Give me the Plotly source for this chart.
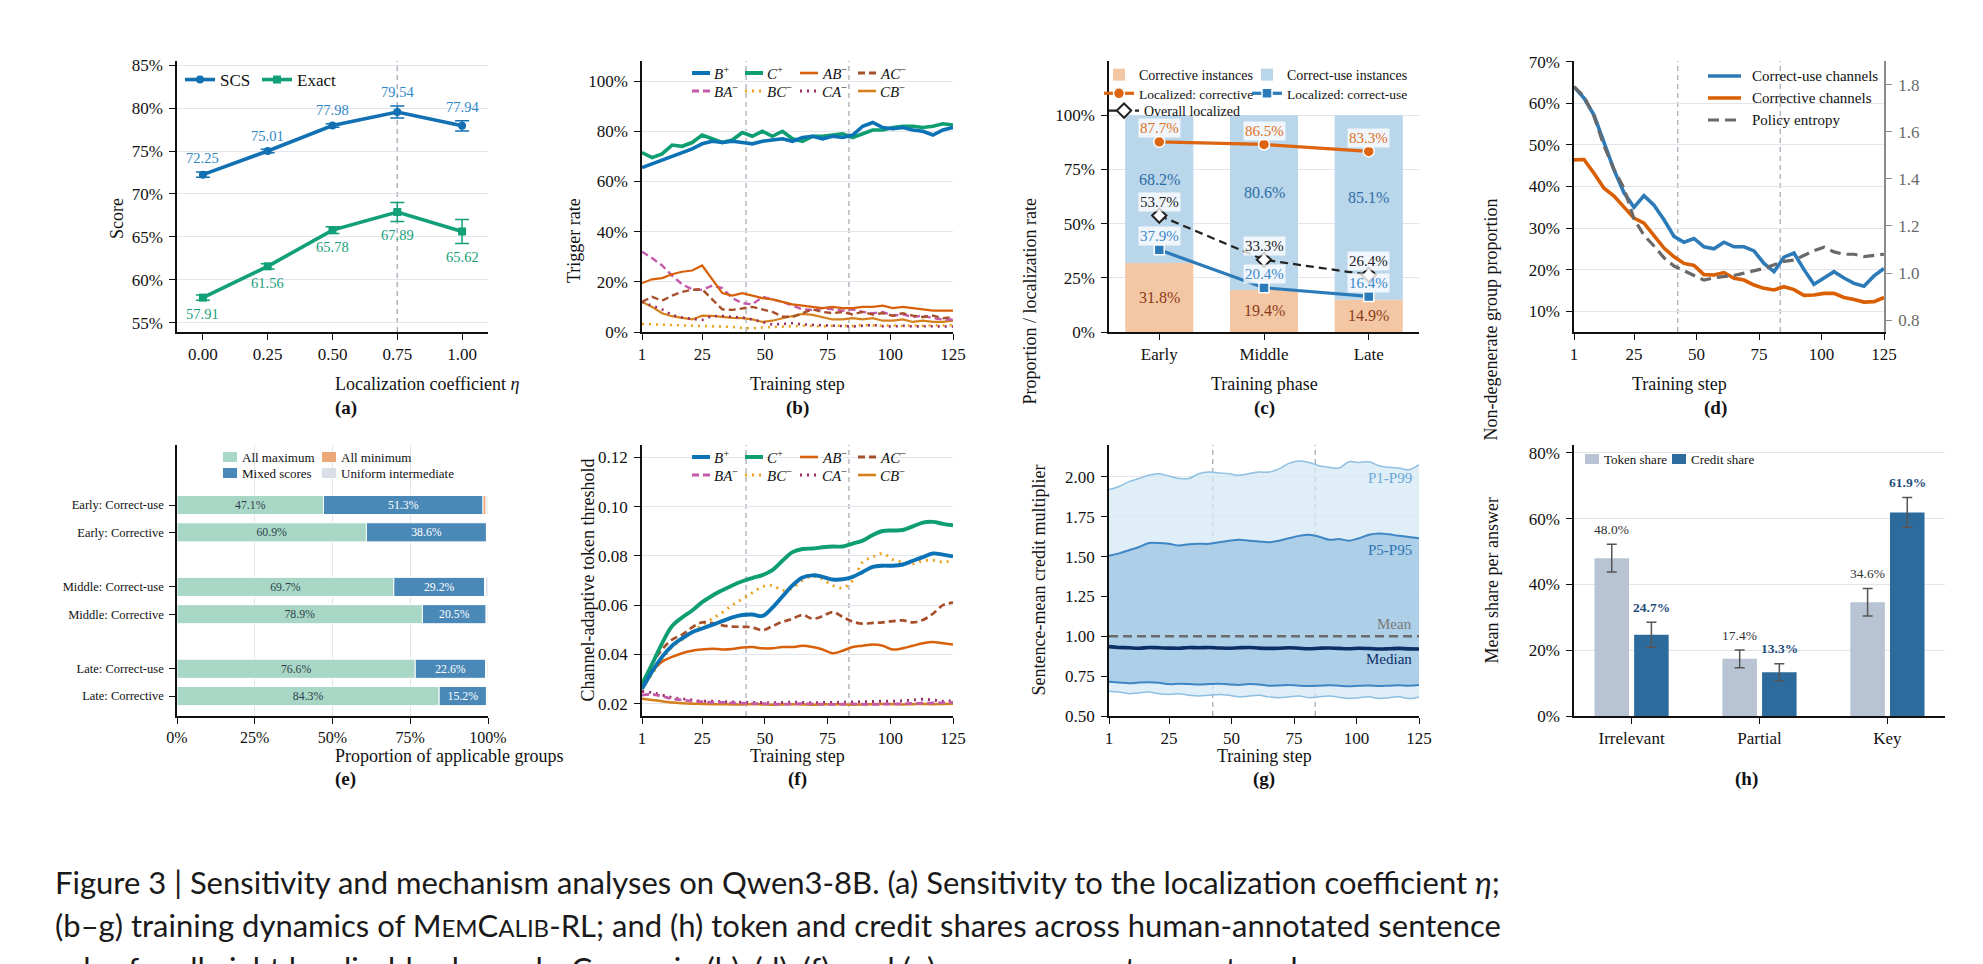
import plotly.graph_objects as go

W, H = 1983, 964
SERIF = "Liberation Serif"
SANS = "Lato"

# ---------------- (a) sensitivity to the localization coefficient ----------------
eta = [0.00, 0.25, 0.50, 0.75, 1.00]
eta_chosen = 0.75
scs = [72.25, 75.01, 77.98, 79.54, 77.94]
scs_err = [0.3, 0.2, 0.2, 0.7, 0.6]
exact = [57.91, 61.56, 65.78, 67.89, 65.62]
exact_err = [0.3, 0.3, 0.4, 1.1, 1.4]
score_ticks = [55, 60, 65, 70, 75, 80, 85]

# ---------------- shared training-step grid (curves read every 4th step) ----------------
steps = [1, 5, 9, 13, 17, 21, 25, 29, 33, 37, 41, 45, 49, 53, 57, 61,
         65, 69, 73, 77, 81, 85, 89, 93, 97, 101, 105, 109, 113, 117, 121, 125]
phase_cuts = [42.5, 83.5]
step_ticks = [1, 25, 50, 75, 100, 125]

channels = ["B+", "C+", "AB−", "AC−", "BA−", "BC−", "CA−", "CB−"]

# (b) trigger rate (%)
trig_Bp = [65.5, 67, 68.5, 70, 71.5, 73, 75, 76, 75.5, 76, 75.5, 75, 76, 76.5, 77, 76,
           77.5, 78, 77, 78, 77.5, 78.5, 82, 83.5, 81.5, 81, 81.5, 80.5, 80, 78.5, 80.5, 81.5]
trig_Cp = [71.5, 69.5, 71, 74.5, 74, 75.5, 78.5, 77, 75.5, 76.5, 79.5, 78, 80, 78, 80, 77,
           76, 78, 78, 78.5, 79, 77.5, 79, 80.5, 80.5, 81.5, 82, 82, 81.5, 82, 83, 82.5]
trig_ABm = [19.5, 21, 21.5, 23, 24, 24.5, 26.5, 21, 15.5, 14.5, 15.5, 14.5, 13.5, 13, 12, 11,
            10.5, 10, 9.5, 10, 9.5, 9.5, 10, 10, 10.5, 9.5, 10, 9.5, 9, 8.5, 8.5, 8.5]
trig_ACm = [12, 14, 12.5, 14.5, 16, 16.8, 17, 13, 9, 8.8, 9.5, 10, 9, 8, 6.2, 6,
            7.5, 9, 8, 7.5, 8, 7, 8, 7, 7.5, 6.5, 7.5, 6.5, 6, 6.5, 5.5, 6]
trig_BAm = [32, 29.5, 26.5, 22.5, 19, 17, 16.8, 18.5, 17.5, 13.5, 11.5, 11, 14, 13, 12, 10.5,
            9, 8.8, 9.5, 9, 8.5, 9, 8, 7.5, 8, 6.5, 7, 6, 6.5, 5.5, 5, 5]
trig_BCm = [3.2, 3, 2.8, 2.6, 2.7, 2.5, 2.4, 2.2, 2.3, 2, 1.6, 1.5, 1.8, 2, 2.2, 2.3,
            2.5, 2.4, 2.2, 2.5, 2.6, 2.4, 2.8, 2.6, 2.5, 2.7, 2.4, 2.6, 2.5, 2.7, 2.6, 2.8]
trig_CAm = [12, 10.5, 9, 6.8, 5.8, 5.2, 4.8, 6.4, 6.4, 6, 5.8, 5, 4, 3, 3.2, 3.5,
            3, 2.8, 2.8, 2.5, 2.5, 2.2, 2.5, 2.8, 2.3, 2.2, 2.5, 2.2, 2.3, 2.2, 2.1, 2.2]
trig_CBm = [12, 10, 7.5, 6.3, 5.6, 5, 6.5, 6.4, 6, 5.6, 5.5, 5, 4, 4.5, 5.5, 6.4,
            7.2, 6.8, 6, 5, 5, 5.5, 5, 5.5, 4.5, 4.5, 5, 4, 4.5, 4, 4, 4.5]
trig_ticks = [0, 20, 40, 60, 80, 100]

# (c) instance composition and localization rate per phase (%)
phases = ["Early", "Middle", "Late"]
corrective_share = [31.8, 19.4, 14.9]
correct_use_share = [68.2, 80.6, 85.1]
loc_corrective = [87.7, 86.5, 83.3]
loc_correct_use = [37.9, 20.4, 16.4]
loc_overall = [53.7, 33.3, 26.4]
prop_ticks = [0, 25, 50, 75, 100]

# (d) non-degenerate group proportion (%) and policy entropy
nd_correct_use = [64, 61.3, 57.2, 50.5, 44, 38.5, 35, 37.8, 35.5, 32, 28, 26.6, 27.5, 25.5, 25, 26.6,
                  25.5, 25.5, 24.5, 21.5, 19.5, 23, 24, 20, 16.5, 18, 19.5, 18, 16.7, 16, 18.5, 20.3]
nd_corrective = [46.4, 46.5, 43.2, 39.6, 37.7, 35.1, 32.4, 31.2, 28.3, 25.2, 23.1, 21.5, 21, 18.8, 18.7, 19.3,
                 17.9, 17.5, 16.3, 15.5, 15.1, 15.9, 15.2, 13.8, 13.9, 14.3, 14.3, 13.3, 12.8, 12.2, 12.3, 13.3]
entropy = [1.79, 1.75, 1.665, 1.54, 1.44, 1.36, 1.23, 1.16, 1.115, 1.065, 1.03, 1.01, 0.99, 0.97, 0.98, 0.985,
           0.99, 1.0, 1.01, 1.02, 1.035, 1.05, 1.055, 1.075, 1.095, 1.11, 1.09, 1.08, 1.08, 1.07, 1.075, 1.08]
nd_ticks = [10, 20, 30, 40, 50, 60, 70]
entropy_ticks = [0.8, 1.0, 1.2, 1.4, 1.6, 1.8]

# (e) group outcome composition (%)
groups = ["Early: Correct-use", "Early: Corrective", "Middle: Correct-use",
          "Middle: Corrective", "Late: Correct-use", "Late: Corrective"]
all_max = [47.1, 60.9, 69.7, 78.9, 76.6, 84.3]
mixed = [51.3, 38.6, 29.2, 20.5, 22.6, 15.2]
all_min = [1.0, 0.3, 0.3, 0.2, 0.3, 0.2]
uniform_mid = [0.6, 0.2, 0.8, 0.4, 0.5, 0.3]

# (f) channel-adaptive token threshold
thr_Bp = [0.026, 0.033, 0.039, 0.0435, 0.0465, 0.049, 0.0505, 0.052, 0.0535, 0.055, 0.056, 0.0562, 0.0556, 0.059, 0.0635, 0.068,
          0.0712, 0.0721, 0.0715, 0.0704, 0.0705, 0.0715, 0.0735, 0.0755, 0.076, 0.076, 0.0765, 0.078, 0.0795, 0.081, 0.0805, 0.0798]
thr_Cp = [0.028, 0.036, 0.0445, 0.0515, 0.055, 0.0578, 0.0612, 0.0638, 0.066, 0.068, 0.0697, 0.071, 0.0722, 0.0742, 0.078, 0.0815,
          0.0828, 0.083, 0.0835, 0.0838, 0.0838, 0.085, 0.0862, 0.0885, 0.0901, 0.0903, 0.0905, 0.092, 0.0935, 0.0938, 0.093, 0.0924]
thr_ABm = [0.027, 0.033, 0.037, 0.039, 0.0405, 0.0415, 0.042, 0.0423, 0.042, 0.0422, 0.0428, 0.043, 0.0425, 0.0425, 0.043, 0.043,
           0.0435, 0.043, 0.042, 0.0405, 0.0415, 0.043, 0.0435, 0.044, 0.0435, 0.042, 0.0425, 0.0435, 0.0445, 0.045, 0.0445, 0.044]
thr_ACm = [0.027, 0.036, 0.042, 0.046, 0.048, 0.051, 0.053, 0.0527, 0.0518, 0.0513, 0.0512, 0.051, 0.0498, 0.0515, 0.0532, 0.0545,
           0.056, 0.0545, 0.0555, 0.0572, 0.0552, 0.0533, 0.0525, 0.0528, 0.053, 0.0535, 0.0538, 0.053, 0.054, 0.0565, 0.060, 0.061]
thr_BAm = [0.0235, 0.0238, 0.023, 0.022, 0.0215, 0.021, 0.0208, 0.0205, 0.0205, 0.0203, 0.0202, 0.020, 0.020, 0.0199, 0.0198, 0.0199,
           0.020, 0.0199, 0.0198, 0.0197, 0.0198, 0.0199, 0.0198, 0.0197, 0.0198, 0.0199, 0.020, 0.0201, 0.0202, 0.0203, 0.0204, 0.0205]
thr_BCm = [0.026, 0.032, 0.038, 0.043, 0.046, 0.049, 0.052, 0.0545, 0.057, 0.060, 0.0625, 0.065, 0.0675, 0.068, 0.066, 0.067,
           0.070, 0.0717, 0.0705, 0.068, 0.067, 0.070, 0.0775, 0.0796, 0.081, 0.0785, 0.0775, 0.0768, 0.078, 0.0782, 0.0775, 0.0782]
thr_CAm = [0.025, 0.0245, 0.0235, 0.0225, 0.022, 0.0215, 0.021, 0.021, 0.0208, 0.0207, 0.0206, 0.0205, 0.0205, 0.0204, 0.0205, 0.0206,
           0.0205, 0.0204, 0.0205, 0.0205, 0.0206, 0.0207, 0.0208, 0.0209, 0.021, 0.021, 0.0212, 0.0215, 0.0218, 0.0215, 0.021, 0.0212]
thr_CBm = [0.022, 0.0215, 0.021, 0.0205, 0.0202, 0.020, 0.0199, 0.0198, 0.0198, 0.0197, 0.0197, 0.0198, 0.0197, 0.0196, 0.0197, 0.0198,
           0.0197, 0.0196, 0.0197, 0.0198, 0.0197, 0.0196, 0.0197, 0.0198, 0.0199, 0.0198, 0.0197, 0.0198, 0.0199, 0.0198, 0.0199, 0.0200]
thr_ticks = [0.02, 0.04, 0.06, 0.08, 0.10, 0.12]

# (g) sentence-mean credit multiplier distribution
mult_p99 = [1.92, 1.94, 1.97, 1.99, 2.01, 2.02, 2.005, 1.99, 1.99, 2.02, 2.03, 2.025, 2.02, 2.01, 2.02, 2.03,
            2.03, 2.05, 2.085, 2.10, 2.09, 2.07, 2.06, 2.055, 2.095, 2.09, 2.095, 2.07, 2.06, 2.055, 2.045, 2.075]
mult_p95 = [1.505, 1.52, 1.54, 1.56, 1.585, 1.585, 1.58, 1.569, 1.578, 1.581, 1.58, 1.59, 1.60, 1.606, 1.60, 1.595,
            1.59, 1.60, 1.615, 1.63, 1.637, 1.625, 1.606, 1.61, 1.60, 1.615, 1.637, 1.645, 1.64, 1.63, 1.623, 1.615]
mult_median = [0.935, 0.93, 0.928, 0.925, 0.93, 0.928, 0.926, 0.925, 0.93, 0.928, 0.93, 0.927, 0.925, 0.928, 0.93, 0.926,
               0.924, 0.925, 0.928, 0.925, 0.922, 0.925, 0.927, 0.924, 0.922, 0.925, 0.923, 0.92, 0.922, 0.924, 0.921, 0.92]
mult_p5 = [0.715, 0.71, 0.705, 0.71, 0.712, 0.708, 0.70, 0.702, 0.70, 0.697, 0.70, 0.703, 0.698, 0.695, 0.70, 0.698,
           0.69, 0.692, 0.695, 0.69, 0.688, 0.69, 0.693, 0.69, 0.686, 0.69, 0.692, 0.688, 0.69, 0.693, 0.69, 0.695]
mult_p1 = [0.655, 0.65, 0.64, 0.645, 0.65, 0.64, 0.635, 0.64, 0.63, 0.625, 0.63, 0.635, 0.63, 0.62, 0.625, 0.63,
           0.62, 0.615, 0.62, 0.625, 0.615, 0.62, 0.625, 0.618, 0.61, 0.615, 0.62, 0.61, 0.615, 0.62, 0.61, 0.62]
mult_mean_steps = [1, 125]
mult_mean = [1.0, 1.0]
mult_ticks = [0.5, 0.75, 1.0, 1.25, 1.5, 1.75, 2.0]

# (h) token vs credit share by sentence role (%)
roles = ["Irrelevant", "Partial", "Key"]
token_share = [48.0, 17.4, 34.6]
token_err = [4.2, 2.7, 4.2]
credit_share = [24.7, 13.3, 61.9]
credit_err = [3.8, 2.6, 4.5]
share_ticks = [0, 20, 40, 60, 80]

# ---------------- styling ----------------
ch_color = ["#0B72B5", "#0E9E72", "#D9600A", "#A64F2A", "#C45BAA", "#EBA21A", "#9A2C67", "#D4801C"]
ch_width = [3.6, 3.6, 2.2, 2.4, 2.4, 2.6, 2.6, 2.2]
ch_dash = ["solid", "solid", "solid", "7px,4px", "7px,4px", "2px,5px", "2px,5px", "solid"]
trig = [trig_Bp, trig_Cp, trig_ABm, trig_ACm, trig_BAm, trig_BCm, trig_CAm, trig_CBm]
thr = [thr_Bp, thr_Cp, thr_ABm, thr_ACm, thr_BAm, thr_BCm, thr_CAm, thr_CBm]

ROW1, ROW2 = (61, 332), (445, 716)
PANELS = {
    "a": (1, (177, 488), ROW1), "b": (2, (642, 953), ROW1),
    "c": (3, (1109, 1419), ROW1), "d": (4, (1574, 1884), ROW1),
    "e": (5, (177, 488), ROW2), "f": (6, (642, 953), ROW2),
    "g": (7, (1109, 1419), ROW2), "h": (8, (1574, 1945), ROW2),
}


def px(x):
    return x / W


def py(y):
    return 1 - y / H


def sfx(n):
    return "" if n == 1 else str(n)


def pct(ticks):
    return [f"{t}%" for t in ticks]


fig = go.Figure()
shapes, annotations = [], []


def ann(x, y, text, size=17, color="#111", family=SERIF, **kw):
    d = dict(x=x, y=y, xref="paper", yref="paper", text=text, showarrow=False,
             font=dict(family=family, size=size, color=color))
    d.update(kw)
    annotations.append(d)


def line_key(x0, y, length, color, width, dash):
    shapes.append(dict(type="line", xref="paper", yref="paper", x0=px(x0), x1=px(x0 + length),
                       y0=py(y), y1=py(y), line=dict(color=color, width=width, dash=dash)))


def axis_style(**kw):
    d = dict(showline=True, linecolor="#111", linewidth=1.6, ticks="outside", ticklen=6,
             tickwidth=1.3, tickcolor="#111", zeroline=False, showgrid=False, automargin=False,
             gridcolor="#E4E4EC", gridwidth=1, tickmode="array",
             tickfont=dict(family=SERIF, size=17, color="#111"))
    d.update(kw)
    return d


layout_axes = {}


def set_axes(key, xa, ya):
    n, (l, r), (t, b) = PANELS[key]
    layout_axes["xaxis" + sfx(n)] = axis_style(domain=[px(l), px(r)], anchor="y" + sfx(n),
                                               ticklabelstandoff=0, **xa)
    layout_axes["yaxis" + sfx(n)] = axis_style(domain=[py(b), py(t)], anchor="x" + sfx(n),
                                               ticklabelstandoff=3, **ya)


def ax(key):
    n = PANELS[key][0]
    return dict(xaxis="x" + sfx(n), yaxis="y" + sfx(n))


def phase_lines(key):
    n = PANELS[key][0]
    for c in phase_cuts:
        shapes.append(dict(type="line", xref="x" + sfx(n), yref="y" + sfx(n) + " domain",
                           x0=c, x1=c, y0=0, y1=1, layer="below",
                           line=dict(color="#AEB2BA", width=1.4, dash="5px,4px")))


# ---------------- (a) ----------------
set_axes("a", dict(range=[-0.1, 1.1], tickvals=eta, ticktext=[f"{v:.2f}" for v in eta]),
         dict(range=[53.9, 85.5], tickvals=score_ticks, ticktext=pct(score_ticks), showgrid=True))
shapes.append(dict(type="line", xref="x", yref="y domain", x0=eta_chosen, x1=eta_chosen, y0=0, y1=1,
                   layer="below", line=dict(color="#AEB2BA", width=1.5, dash="5px,4px")))
for name, vals, errs, col, sym, lab_col, sign, lw in [
        ("SCS", scs, scs_err, "#1370B2", "circle", "#2E86C4", 1, 32),
        ("Exact", exact, exact_err, "#11A078", "square", "#18A07A", -1, 50)]:
    fig.add_trace(go.Scatter(x=eta, y=vals, name=name, mode="lines+markers", legend="legend", legendwidth=lw,
                             line=dict(color=col, width=3.6), marker=dict(symbol=sym, size=8, color=col),
                             error_y=dict(type="data", array=errs, color=col, thickness=1.5, width=7),
                             **ax("a")))
    for xv, v, e in zip(eta, vals, errs):
        annotations.append(dict(x=xv, y=v + sign * (e + 1.6), xref="x", yref="y", text=f"{v:.2f}",
                                showarrow=False, font=dict(family=SERIF, size=14.5, color=lab_col)))

# ---------------- (b) ----------------
set_axes("b", dict(range=[1, 125], tickvals=step_ticks),
         dict(range=[0, 108], tickvals=trig_ticks, ticktext=pct(trig_ticks), showgrid=True))
phase_lines("b")
for i in reversed(range(len(channels))):
    fig.add_trace(go.Scatter(x=steps, y=trig[i], mode="lines", showlegend=False,
                             line=dict(color=ch_color[i], width=ch_width[i], dash=ch_dash[i]), **ax("b")))

# ---------------- (c) ----------------
ph_pos = list(range(len(phases)))
set_axes("c", dict(range=[-0.48, 2.48], tickvals=ph_pos, ticktext=phases),
         dict(range=[0, 125], tickvals=prop_ticks, ticktext=pct(prop_ticks), showgrid=True))
fig.add_trace(go.Bar(x=ph_pos, y=corrective_share, width=0.65, name="Corrective instances",
                     marker=dict(color="#F4C7A4", line=dict(width=0)), legend="legend2", legendwidth=103,
                     **ax("c")))
fig.add_trace(go.Bar(x=ph_pos, y=correct_use_share, base=corrective_share, width=0.65,
                     name="Correct-use instances", marker=dict(color="#B9D6EA", line=dict(width=0)),
                     legend="legend2", legendwidth=150, **ax("c")))
fig.add_trace(go.Scatter(x=ph_pos, y=loc_corrective, name="Localized: corrective", mode="lines+markers",
                         line=dict(color="#DD6410", width=3.2),
                         marker=dict(symbol="circle", size=11, color="#DD6410", line=dict(color="white", width=1.5)),
                         legend="legend3", legendwidth=103, **ax("c")))
fig.add_trace(go.Scatter(x=ph_pos, y=loc_correct_use, name="Localized: correct-use", mode="lines+markers",
                         line=dict(color="#2B7BBA", width=3.2),
                         marker=dict(symbol="square", size=10, color="#2B7BBA", line=dict(color="white", width=1.5)),
                         legend="legend3", legendwidth=150, **ax("c")))
fig.add_trace(go.Scatter(x=ph_pos, y=loc_overall, name="Overall localized", mode="lines+markers",
                         line=dict(color="#222", width=2.2, dash="8px,5px"),
                         marker=dict(symbol="diamond", size=11, color="white", line=dict(color="#222", width=2)),
                         legend="legend4", legendwidth=120, **ax("c")))
for p, lo, up in zip(ph_pos, corrective_share, correct_use_share):
    annotations.append(dict(x=p, y=lo / 2, xref="x3", yref="y3", text=f"{lo:.1f}%", showarrow=False,
                            font=dict(family=SERIF, size=16, color="#8A3B1A")))
    annotations.append(dict(x=p, y=lo + up / 2 + 4.5, xref="x3", yref="y3", text=f"{up:.1f}%", showarrow=False,
                            font=dict(family=SERIF, size=16, color="#2C6CA6")))
for vals, col in [(loc_corrective, "#E0701E"), (loc_correct_use, "#3A88C8"), (loc_overall, "#222")]:
    for p, v in zip(ph_pos, vals):
        annotations.append(dict(x=p, y=v + 6.4, xref="x3", yref="y3", text=f"{v:.1f}%", showarrow=False,
                                bgcolor="rgba(255,255,255,0.78)", borderpad=1,
                                font=dict(family=SERIF, size=15, color=col)))

# ---------------- (d) ----------------
set_axes("d", dict(range=[1, 125], tickvals=step_ticks),
         dict(range=[5, 70.2], tickvals=nd_ticks, ticktext=pct(nd_ticks), showgrid=True))
layout_axes["yaxis9"] = axis_style(overlaying="y4", side="right", anchor="x4", range=[0.75, 1.90],
                                   tickvals=entropy_ticks, ticktext=[f"{v:.1f}" for v in entropy_ticks],
                                   linecolor="#8C8C8C", tickcolor="#8C8C8C", ticklabelstandoff=3,
                                   tickfont=dict(family=SERIF, size=17, color="#6A6A6A"))
phase_lines("d")
d_series = [("Correct-use channels", nd_correct_use, "#2C7BB8", 3.6, "solid", "y4"),
            ("Corrective channels", nd_corrective, "#D95F02", 3.6, "solid", "y4"),
            ("Policy entropy", entropy, "#696969", 3.2, "11px,6px", "y9")]
for k, (name, vals, col, lw, dash, yax) in enumerate(d_series):
    fig.add_trace(go.Scatter(x=steps, y=vals, name=name, mode="lines", showlegend=False,
                             line=dict(color=col, width=lw, dash=dash), xaxis="x4", yaxis=yax))
    line_key(1708, 76 + 22 * k, 33, col, lw, dash)
    ann(px(1750), py(76 + 22 * k), name, size=15, xanchor="left", yanchor="middle")

# ---------------- (e) ----------------
g_pos = [i + i // 2 for i in range(len(groups))]
set_axes("e", dict(range=[0, 100], tickvals=prop_ticks, ticktext=pct(prop_ticks), showgrid=True,
                   tickfont=dict(family=SERIF, size=16, color="#111")),
         dict(range=[7.73, -2.2], tickvals=g_pos, ticktext=groups,
              tickfont=dict(family=SERIF, size=12.5, color="#111")))
seg_order = [("All maximum", all_max, "#A8D8C5", "#2F3E4E"),
             ("Mixed scores", mixed, "#4A89B7", "white"),
             ("All minimum", all_min, "#EDA878", None),
             ("Uniform intermediate", uniform_mid, "#DADFE7", None)]
seg_color = {name: col for name, _, col, _ in seg_order}
base = [0.0] * len(groups)
for name, vals, col, txt_col in seg_order:
    fig.add_trace(go.Bar(y=g_pos, x=vals, base=list(base), orientation="h", width=0.7, name=name,
                         marker=dict(color=col, line=dict(color="white", width=1)), showlegend=False,
                         text=[f"{v:.1f}%" for v in vals] if txt_col else None,
                         textposition="inside" if txt_col else "none", insidetextanchor="middle",
                         textangle=0, textfont=dict(family=SERIF, size=13.5, color=txt_col or "#111"),
                         **ax("e")))
    base = [b + v for b, v in zip(base, vals)]
for k, name in enumerate(["All maximum", "All minimum", "Mixed scores", "Uniform intermediate"]):
    lx, ly = 223 + 99 * (k % 2), 457 + 16 * (k // 2)
    shapes.append(dict(type="rect", xref="paper", yref="paper", x0=px(lx), x1=px(lx + 14),
                       y0=py(ly + 5), y1=py(ly - 5), line=dict(width=0), fillcolor=seg_color[name]))
    ann(px(lx + 17), py(ly), name, size=13, xanchor="left", yanchor="middle")

# ---------------- (f) ----------------
set_axes("f", dict(range=[1, 125], tickvals=step_ticks),
         dict(range=[0.015, 0.125], tickvals=thr_ticks, ticktext=[f"{v:.2f}" for v in thr_ticks], showgrid=True))
phase_lines("f")
for i in reversed(range(len(channels))):
    fig.add_trace(go.Scatter(x=steps, y=thr[i], mode="lines", showlegend=False,
                             line=dict(color=ch_color[i], width=ch_width[i] + 0.3, dash=ch_dash[i], shape="spline"),
                             **ax("f")))

# compact channel legends (2 x 4) for (b) and (f)
col_off = [0, 53, 108, 166]
for x0, y0 in [(692, 73), (692, 457)]:
    for i, ch in enumerate(channels):
        lx, ly = x0 + col_off[i % 4], y0 + 18 * (i // 4)
        line_key(lx, ly, 18, ch_color[i], ch_width[i] + 0.4, ch_dash[i])
        ann(px(lx + 20), py(ly), f"<i>{ch[:-1]}</i><sup>{ch[-1]}</sup>", size=15, xanchor="left", yanchor="middle")

# ---------------- (g) ----------------
set_axes("g", dict(range=[1, 125], tickvals=step_ticks),
         dict(range=[0.5, 2.2], tickvals=mult_ticks, ticktext=[f"{v:.2f}" for v in mult_ticks], showgrid=True))
phase_lines("g")
fig.add_trace(go.Scatter(x=steps, y=mult_p1, mode="lines", showlegend=False,
                         line=dict(color="#8DBFE3", width=1.5, shape="spline"), **ax("g")))
fig.add_trace(go.Scatter(x=steps, y=mult_p99, mode="lines", showlegend=False, fill="tonexty",
                         fillcolor="rgba(214,232,244,0.75)",
                         line=dict(color="#8DBFE3", width=1.5, shape="spline"), **ax("g")))
fig.add_trace(go.Scatter(x=steps, y=mult_p5, mode="lines", showlegend=False,
                         line=dict(color="#3F86C5", width=2, shape="spline"), **ax("g")))
fig.add_trace(go.Scatter(x=steps, y=mult_p95, mode="lines", showlegend=False, fill="tonexty",
                         fillcolor="rgba(160,199,226,0.8)",
                         line=dict(color="#3F86C5", width=2, shape="spline"), **ax("g")))
fig.add_trace(go.Scatter(x=mult_mean_steps, y=mult_mean, mode="lines", showlegend=False,
                         line=dict(color="#6B6B6B", width=2.4, dash="9px,5px"), **ax("g")))
fig.add_trace(go.Scatter(x=steps, y=mult_median, mode="lines", showlegend=False,
                         line=dict(color="#0B2F66", width=3.6, shape="spline"), **ax("g")))
for txt, yv, col in [("P1-P99", 1.99, "#6AA8D8"), ("P5-P95", 1.54, "#2E74B5"),
                     ("Mean", 1.08, "#7A7A7A"), ("Median", 0.855, "#0B2F66")]:
    annotations.append(dict(x=123, y=yv, xref="x7", yref="y7", text=txt, showarrow=False, xanchor="right",
                            font=dict(family=SERIF, size=15, color=col)))

# ---------------- (h) ----------------
r_pos = list(range(len(roles)))
set_axes("h", dict(range=[-0.45, 2.45], tickvals=r_pos, ticktext=roles),
         dict(range=[0, 82.4], tickvals=share_ticks, ticktext=pct(share_ticks), showgrid=True))
fig.add_trace(go.Bar(x=r_pos, y=token_share, offset=-0.29, width=0.27, name="Token share", showlegend=False,
                     marker=dict(color="#B8C4D3", line=dict(width=0)),
                     error_y=dict(type="data", array=token_err, color="#555", thickness=1.5, width=5),
                     **ax("h")))
fig.add_trace(go.Bar(x=r_pos, y=credit_share, offset=0.02, width=0.27, name="Credit share", showlegend=False,
                     marker=dict(color="#2D6B9C", line=dict(width=0)),
                     error_y=dict(type="data", array=credit_err, color="#555", thickness=1.5, width=5),
                     **ax("h")))
for p, v, e in zip(r_pos, token_share, token_err):
    annotations.append(dict(x=p - 0.155, y=v + e + 4.5, xref="x8", yref="y8", text=f"{v:.1f}%", showarrow=False,
                            font=dict(family=SERIF, size=13.5, color="#333")))
for p, v, e in zip(r_pos, credit_share, credit_err):
    annotations.append(dict(x=p + 0.155, y=v + e + 4.5, xref="x8", yref="y8", text=f"<b>{v:.1f}%</b>",
                            showarrow=False, font=dict(family=SERIF, size=13.5, color="#1F4E79")))
for lx, name, col in [(1585, "Token share", "#B8C4D3"), (1672, "Credit share", "#2D6B9C")]:
    shapes.append(dict(type="rect", xref="paper", yref="paper", x0=px(lx), x1=px(lx + 14),
                       y0=py(464), y1=py(454), line=dict(width=0), fillcolor=col))
    ann(px(lx + 17), py(459), name, size=13, xanchor="left", yanchor="middle")

# ---------------- axis titles & panel letters ----------------
xlabels = {"a": "Localization coefficient <i>η</i>", "b": "Training step", "c": "Training phase",
           "d": "Training step", "e": "Proportion of applicable groups", "f": "Training step",
           "g": "Training step", "h": None}
ylabels = {"a": ("Score", 105), "b": ("Trigger rate", 562), "c": ("Proportion / localization rate", 1030),
           "d": ("Non-degenerate group proportion", 1503), "f": ("Channel-adaptive token threshold", 575),
           "g": ("Sentence-mean credit multiplier", 1038), "h": ("Mean share per answer", 1503)}
for key, (n, (l, r), (t, b)) in PANELS.items():
    cx = (l + r) / 2
    if xlabels[key]:
        ann(px(cx), py(b + 52), xlabels[key], size=18)
    ann(px(cx), py(b + 76), f"<b>({key})</b>", size=19)
    if key in ylabels:
        txt, yx = ylabels[key]
        ann(px(yx), py((t + b) / 2), txt, size=18, textangle=-90)

# ---------------- caption ----------------
sc = "<span style='font-size:24px'>"
caption = [
    "Figure 3 | Sensitivity and mechanism analyses on Qwen3-8B. (a) Sensitivity to the localization coefficient <i>η</i>;",
    f"(b–g) training dynamics of M{sc}EM</span>C{sc}ALIB</span>-RL; and (h) token and credit shares across human-annotated sentence",
    "roles for all eight localizable channels. Curves in (b), (d), (f), and (g) use a seven-step centered mean; error",
]
for k, line in enumerate(caption):
    ann(px(53), py(882 + 43 * k), line, size=31, family=SANS, color="#1A1A1A", xanchor="left", yanchor="middle")

legend_common = dict(bgcolor="rgba(0,0,0,0)", borderwidth=0, xanchor="left", yanchor="top",
                     orientation="h", itemwidth=30, tracegroupgap=0, traceorder="normal")
fig.update_layout(
    template="none",
    width=W, height=H, autosize=False, margin=dict(l=0, r=0, t=0, b=0, pad=0),
    paper_bgcolor="white", plot_bgcolor="rgba(0,0,0,0)",
    font=dict(family=SERIF, size=17, color="#111"),
    barmode="overlay", showlegend=True, hovermode=False,
    shapes=shapes, annotations=annotations,
    legend=dict(legend_common, x=px(180), y=py(62), font=dict(family=SERIF, size=17)),
    legend2=dict(legend_common, x=px(1099), y=py(59), font=dict(family=SERIF, size=14)),
    legend3=dict(legend_common, x=px(1099), y=py(78), font=dict(family=SERIF, size=13.5)),
    legend4=dict(legend_common, x=px(1104), y=py(95), font=dict(family=SERIF, size=14)),
    **layout_axes,
)

fig.write_html("out.html", config={"displayModeBar": False},
               post_script="document.body.style.margin='0';document.body.style.overflow='hidden';")
